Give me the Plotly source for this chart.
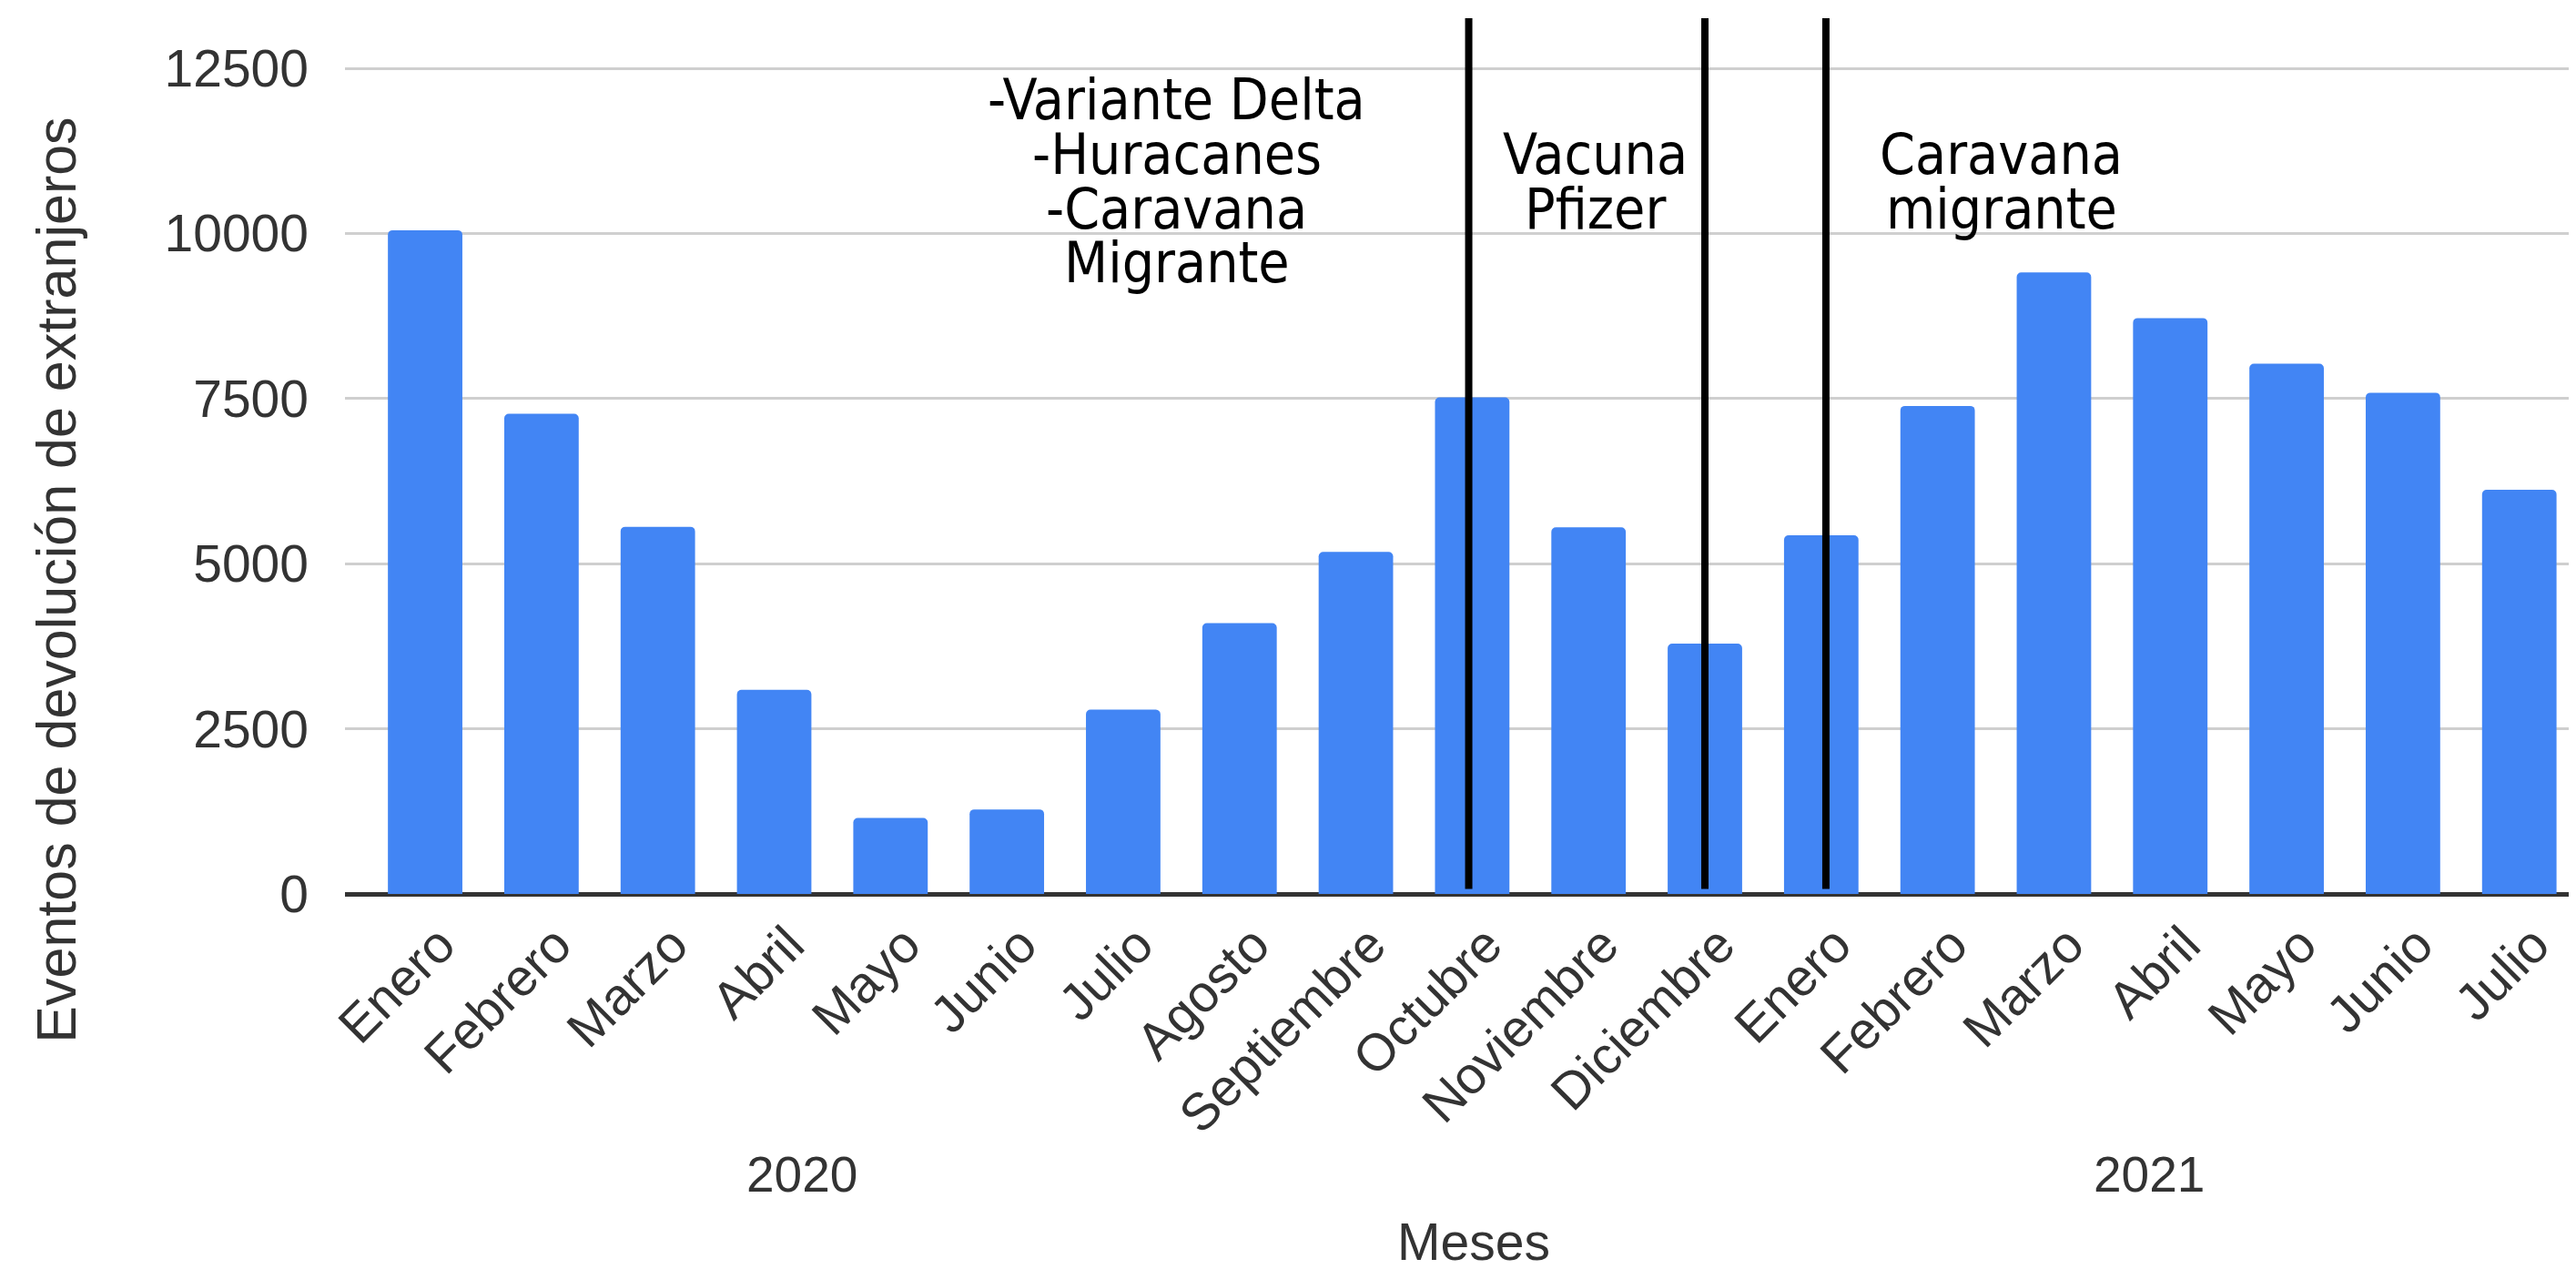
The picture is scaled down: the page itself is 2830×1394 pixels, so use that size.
import plotly.graph_objects as go

# ---- data ----
months = ["Enero", "Febrero", "Marzo", "Abril", "Mayo", "Junio", "Julio", "Agosto",
          "Septiembre", "Octubre", "Noviembre", "Diciembre",
          "Enero", "Febrero", "Marzo", "Abril", "Mayo", "Junio", "Julio"]
values = [10050, 7270, 5560, 3090, 1150, 1280, 2790, 4100,
          5180, 7520, 5550, 3790,
          5430, 7390, 9410, 8720, 8030, 7590, 6120]
years = ["2020", "2021"]
y_ticks = [0, 2500, 5000, 7500, 10000, 12500]
y_ticktext = ["0", "2500", "5000", "7500", "10000", "12500"]
event_lines = [8.97, 11.0, 12.04]
event_texts = [
    ["-Variante Delta", "-Huracanes", "-Caravana", "Migrante"],
    ["Vacuna", "Pfizer"],
    ["Caravana", "migrante"],
]

W, H = 2830, 1394
L, R, T, B = 371, 0, 65, 419.5
plot_h = H - T - B
x_range = [-0.689, 18.55]
y_range = [0, 12530]

def py(ypix):
    return (H - B - ypix) / plot_h

def px(xpix):
    return (xpix - L) / (W - L - R)

def xpaper(xval):
    return (xval - x_range[0]) / (x_range[1] - x_range[0])

xs = list(range(len(months)))

fig = go.Figure()
fig.add_trace(go.Bar(x=xs, y=values, marker=dict(color="#4285F4", cornerradius=5,
                                                  line=dict(width=0)),
                     hoverinfo="y"))

tick_font = dict(family="Liberation Sans, Arial, sans-serif", size=57, color="#333333")
year_font = dict(family="Liberation Sans, Arial, sans-serif", size=55, color="#333333")
title_font = dict(family="Liberation Sans, Arial, sans-serif", size=61, color="#333333")
ann_font = dict(family="DejaVu Sans Condensed, Roboto, sans-serif", size=62, color="#000000")

fig.update_layout(
    width=W, height=H,
    margin=dict(l=L, r=R, t=T, b=B, pad=0),
    plot_bgcolor="white", paper_bgcolor="white",
    showlegend=False, bargap=0.36,
    xaxis=dict(range=x_range, tickmode="array", tickvals=xs, ticktext=months,
               tickangle=-45, tickfont=tick_font, showgrid=False, zeroline=False,
               showline=False, ticks="", ticklabelstandoff=10, ticklabelshift=16),
    yaxis=dict(range=y_range, tickmode="array", tickvals=y_ticks, ticktext=y_ticktext,
               tickfont=tick_font, showgrid=True, gridcolor="#cfcfcf", gridwidth=3,
               zeroline=True, zerolinecolor="#333333", zerolinewidth=5,
               showline=False, ticks="", ticklabelstandoff=39),
)

shapes = []
for xv in event_lines:
    xp = xpaper(xv)
    shapes.append(dict(type="line", xref="paper", yref="paper", x0=xp, x1=xp,
                       y0=py(969), y1=py(12), line=dict(color="black", width=8)))
fig.update_layout(shapes=shapes)

ann = []
block_x = [6.46, 10.06, 13.55]
block_rows = [[107, 167, 227, 286], [167, 227], [167, 227]]
for texts, bx, rows in zip(event_texts, block_x, block_rows):
    for t, ry in zip(texts, rows):
        ann.append(dict(text=t, xref="x", yref="paper", x=bx, y=py(ry - 5),
                        xanchor="center", yanchor="middle", showarrow=False,
                        font=ann_font))
for yr, xv in zip(years, [3.24, 14.82]):
    ann.append(dict(text=yr, xref="x", yref="paper", x=xv, y=py(1283),
                    xanchor="center", yanchor="middle", showarrow=False,
                    font=year_font))
ann.append(dict(text="Meses", xref="paper", yref="paper", x=px(1611), y=py(1357),
                xanchor="center", yanchor="middle", showarrow=False, font=tick_font))
ann.append(dict(text="Eventos de devolución de extranjeros", xref="paper", yref="paper",
                x=px(54), y=py(630), xanchor="center", yanchor="middle",
                textangle=-90, showarrow=False, font=title_font))
fig.update_layout(annotations=ann)

fig.write_html("out.html")
